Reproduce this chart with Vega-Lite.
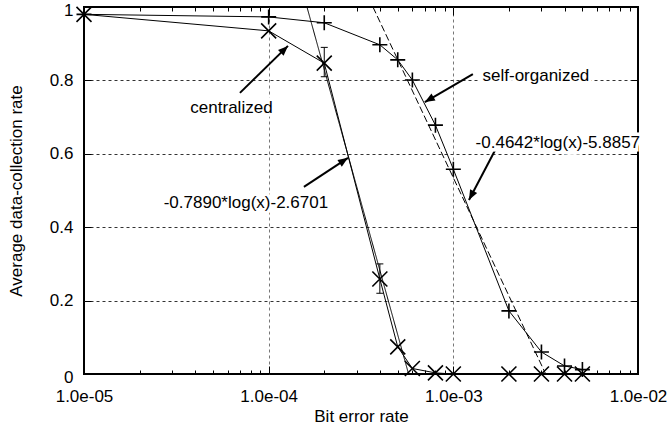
{
  "$schema": "https://vega.github.io/schema/vega-lite/v6.json",
  "width": 554,
  "height": 367,
  "autosize": {"type": "none"},
  "padding": {"left": 84, "top": 7, "right": 31, "bottom": 61},
  "background": "white",
  "config": {
    "font": "Liberation Sans",
    "view": {"stroke": "black", "strokeWidth": 2},
    "axis": {
      "domain": false,
      "grid": false,
      "labelFontSize": 17,
      "labelColor": "black",
      "titleFontSize": 17,
      "titleFontWeight": "normal",
      "titleColor": "black",
      "tickColor": "black",
      "tickWidth": 1
    }
  },
  "datasets": {
    "obs": [
      {"ber": 1e-5, "rate": 0.98, "scheme": "centralized"},
      {"ber": 1e-4, "rate": 0.935, "scheme": "centralized"},
      {"ber": 2e-4, "rate": 0.847, "scheme": "centralized"},
      {"ber": 4e-4, "rate": 0.259, "scheme": "centralized"},
      {"ber": 5e-4, "rate": 0.074, "scheme": "centralized"},
      {"ber": 6e-4, "rate": 0.015, "scheme": "centralized"},
      {"ber": 8e-4, "rate": 0.003, "scheme": "centralized"},
      {"ber": 1e-3, "rate": 0.0, "scheme": "centralized"},
      {"ber": 2e-3, "rate": 0.0, "scheme": "centralized"},
      {"ber": 3e-3, "rate": 0.0, "scheme": "centralized"},
      {"ber": 4e-3, "rate": 0.0, "scheme": "centralized"},
      {"ber": 5e-3, "rate": 0.0, "scheme": "centralized"},
      {"ber": 1e-5, "rate": 0.98, "scheme": "self-organized"},
      {"ber": 1e-4, "rate": 0.973, "scheme": "self-organized"},
      {"ber": 2e-4, "rate": 0.957, "scheme": "self-organized"},
      {"ber": 4e-4, "rate": 0.897, "scheme": "self-organized"},
      {"ber": 5e-4, "rate": 0.856, "scheme": "self-organized"},
      {"ber": 6e-4, "rate": 0.801, "scheme": "self-organized"},
      {"ber": 8e-4, "rate": 0.678, "scheme": "self-organized"},
      {"ber": 1e-3, "rate": 0.558, "scheme": "self-organized"},
      {"ber": 2e-3, "rate": 0.172, "scheme": "self-organized"},
      {"ber": 3e-3, "rate": 0.06, "scheme": "self-organized"},
      {"ber": 4e-3, "rate": 0.022, "scheme": "self-organized"},
      {"ber": 5e-3, "rate": 0.012, "scheme": "self-organized"}
    ],
    "err": [
      {"ber": 2e-4, "lo": 0.81, "hi": 0.89},
      {"ber": 4e-4, "lo": 0.22, "hi": 0.30}
    ],
    "fit": [
      {"ber": 1.612e-4, "rate": 1, "fit": "centralized"},
      {"ber": 5.724e-4, "rate": 0, "fit": "centralized"},
      {"ber": 3.671e-4, "rate": 1, "fit": "self-organized"},
      {"ber": 3.163e-3, "rate": 0, "fit": "self-organized"}
    ],
    "notes": [
      {"ber": 6.29e-5, "rate": 0.711, "text": "centralized"},
      {"ber": 7.53e-5, "rate": 0.452, "text": "-0.7890*log(x)-2.6701"},
      {"ber": 2.80e-3, "rate": 0.798, "text": "self-organized"},
      {"ber": 3.68e-3, "rate": 0.616, "text": "-0.4642*log(x)-5.8857"}
    ],
    "arrows": [
      {"note": "centralized", "ber": 6.99e-5, "rate": 0.766, "ber2": 1.272e-4, "rate2": 0.894},
      {"note": "fit-centralized", "ber": 1.552e-4, "rate": 0.51, "ber2": 2.688e-4, "rate2": 0.589},
      {"note": "self-organized", "ber": 1.276e-3, "rate": 0.817, "ber2": 7.01e-4, "rate2": 0.741},
      {"note": "fit-self-organized", "ber": 1.722e-3, "rate": 0.619, "ber2": 1.215e-3, "rate2": 0.474}
    ]
  },
  "resolve": {"axis": {"x": "independent", "y": "independent"}},
  "layer": [
    {
      "data": {"name": "fit"},
      "mark": {"type": "line", "color": "black", "strokeWidth": 1},
      "encoding": {
        "x": {
          "field": "ber", "type": "quantitative",
          "scale": {"type": "log", "domain": [1e-5, 1e-2], "nice": false},
          "axis": {
            "orient": "bottom", "values": [1e-5, 1e-4, 1e-3, 1e-2],
            "labelExpr": "'1.0e-0' + round(-log(datum.value) / LN10)",
            "labelFlush": false, "labelPadding": 14, "ticks": false,
            "title": "Bit error rate", "titlePadding": 4
          }
        },
        "y": {
          "field": "rate", "type": "quantitative",
          "scale": {"domain": [0, 1], "nice": false, "zero": false},
          "axis": {
            "orient": "left", "values": [0.2, 0.4, 0.6, 0.8], "format": "~g",
            "ticks": false, "labelPadding": 11,
            "title": "Average data-collection rate", "titlePadding": 24
          }
        },
        "strokeDash": {
          "field": "fit", "type": "nominal",
          "scale": {"domain": ["centralized", "self-organized"], "range": [[1, 0], [7, 3]]},
          "legend": null
        }
      }
    },
    {
      "data": {"name": "obs"},
      "mark": {"type": "line", "color": "black", "strokeWidth": 1},
      "encoding": {
        "x": {
          "field": "ber", "type": "quantitative",
          "scale": {"type": "log", "domain": [1e-5, 1e-2], "nice": false},
          "axis": {
            "orient": "bottom", "values": [1e-4, 1e-3], "grid": true,
            "gridDash": [3, 3], "gridColor": "#777777", "gridWidth": 1,
            "labels": false, "ticks": false, "title": null
          }
        },
        "y": {
          "field": "rate", "type": "quantitative",
          "axis": {
            "orient": "left", "values": [0.2, 0.4, 0.6, 0.8], "grid": true,
            "gridDash": [3, 3], "gridColor": "#333333", "gridWidth": 1,
            "labels": false, "ticks": false, "title": null
          }
        },
        "detail": {"field": "scheme", "type": "nominal"}
      }
    },
    {
      "data": {"name": "err"},
      "mark": {"type": "rule", "color": "black", "strokeWidth": 1},
      "encoding": {
        "x": {
          "field": "ber", "type": "quantitative",
          "axis": {
            "orient": "top", "values": [1e-5, 1e-4, 1e-3, 1e-2],
            "tickSize": -8, "labels": false, "title": null
          }
        },
        "y": {
          "field": "lo", "type": "quantitative",
          "axis": {
            "orient": "right", "values": [0, 0.2, 0.4, 0.6, 0.8, 1],
            "tickSize": -7, "labels": false, "title": null
          }
        },
        "y2": {"field": "hi"}
      }
    },
    {
      "data": {"name": "err"},
      "mark": {"type": "tick", "orient": "horizontal", "color": "black", "size": 7, "thickness": 1, "opacity": 1},
      "encoding": {
        "x": {
          "field": "ber", "type": "quantitative",
          "axis": {
            "orient": "bottom",
            "values": [2e-5, 3e-5, 4e-5, 5e-5, 6e-5, 7e-5, 8e-5, 9e-5, 2e-4, 3e-4, 4e-4, 5e-4, 6e-4, 7e-4, 8e-4, 9e-4, 2e-3, 3e-3, 4e-3, 5e-3, 6e-3, 7e-3, 8e-3, 9e-3],
            "tickSize": -4, "labels": false, "title": null
          }
        },
        "y": {
          "field": "lo", "type": "quantitative",
          "axis": {
            "orient": "left", "values": [0, 1], "format": "~g",
            "ticks": false, "labelPadding": 11, "labelOffset": 3, "title": null
          }
        }
      }
    },
    {
      "data": {"name": "err"},
      "mark": {"type": "tick", "orient": "horizontal", "color": "black", "size": 7, "thickness": 1, "opacity": 1},
      "encoding": {
        "x": {
          "field": "ber", "type": "quantitative",
          "axis": {
            "orient": "top",
            "values": [2e-5, 3e-5, 4e-5, 5e-5, 6e-5, 7e-5, 8e-5, 9e-5, 2e-4, 3e-4, 4e-4, 5e-4, 6e-4, 7e-4, 8e-4, 9e-4, 2e-3, 3e-3, 4e-3, 5e-3, 6e-3, 7e-3, 8e-3, 9e-3],
            "tickSize": -4, "labels": false, "title": null
          }
        },
        "y": {
          "field": "hi", "type": "quantitative",
          "axis": {
            "orient": "left", "values": [0, 0.2, 0.4, 0.6, 0.8, 1],
            "tickSize": -7, "labels": false, "title": null
          }
        }
      }
    },
    {
      "data": {"name": "obs"},
      "mark": {"type": "point", "filled": false, "color": "black", "opacity": 1, "strokeWidth": 1.6, "size": 225},
      "encoding": {
        "x": {"field": "ber", "type": "quantitative", "axis": {
            "orient": "bottom", "values": [1e-5, 1e-4, 1e-3, 1e-2],
            "tickSize": -8, "labels": false, "title": null
          }},
        "y": {"field": "rate", "type": "quantitative", "axis": null},
        "shape": {
          "field": "scheme", "type": "nominal",
          "scale": {
            "domain": ["centralized", "self-organized"],
            "range": ["M-1,-1L1,1M-1,1L1,-1", "M-1,0L1,0M0,-1L0,1"]
          },
          "legend": null
        }
      }
    },
    {
      "data": {"name": "arrows"},
      "mark": {"type": "rule", "color": "black", "strokeWidth": 2},
      "encoding": {
        "x": {"field": "ber", "type": "quantitative", "axis": null},
        "y": {"field": "rate", "type": "quantitative", "axis": null},
        "x2": {"field": "ber2"},
        "y2": {"field": "rate2"}
      }
    },
    {
      "data": {"name": "arrows"},
      "mark": {"type": "point", "shape": "M0,0L-0.4,1L0.4,1Z", "filled": true, "color": "black", "size": 400, "opacity": 1},
      "encoding": {
        "x": {"field": "ber2", "type": "quantitative", "axis": null},
        "y": {"field": "rate2", "type": "quantitative", "axis": null},
        "angle": {
          "condition": [
            {"test": "datum.note === 'centralized'", "value": 45.6},
            {"test": "datum.note === 'fit-centralized'", "value": 56.6},
            {"test": "datum.note === 'self-organized'", "value": 239.7}
          ],
          "value": 207.8
        }
      }
    },
    {
      "data": {"name": "notes"},
      "mark": {"type": "text", "fontSize": 17, "align": "center", "baseline": "alphabetic", "color": "white", "stroke": "white", "strokeWidth": 7},
      "encoding": {
        "x": {"field": "ber", "type": "quantitative", "axis": null},
        "y": {"field": "rate", "type": "quantitative", "axis": null},
        "text": {"field": "text"}
      }
    },
    {
      "data": {"name": "notes"},
      "mark": {"type": "text", "fontSize": 17, "align": "center", "baseline": "alphabetic", "color": "black"},
      "encoding": {
        "x": {"field": "ber", "type": "quantitative", "axis": null},
        "y": {"field": "rate", "type": "quantitative", "axis": null},
        "text": {"field": "text"}
      }
    }
  ]
}
